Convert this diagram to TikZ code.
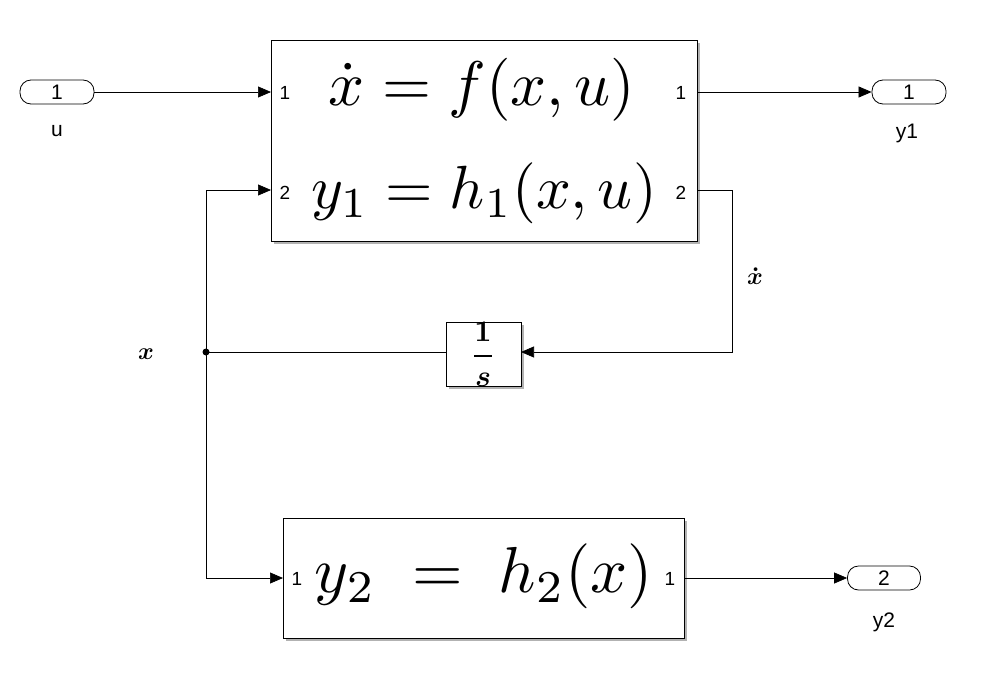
\documentclass[tikz,border=0pt]{standalone}
\usepackage{fontspec}
\setmainfont{Liberation Sans}
\usepackage{amsmath}
\usetikzlibrary{arrows.meta}
\begin{document}
\begin{tikzpicture}[x=1pt,y=-1pt,
  blk/.style={draw,line width=0.8pt,fill=white},
  pill/.style={draw,line width=0.8pt,rounded corners=11pt,minimum width=74pt,minimum height=24pt,inner sep=0pt,font=\fontsize{21}{23}\selectfont},
  wire/.style={line width=0.7pt,-{Triangle[length=13pt,width=11pt]}},
  plain/.style={line width=0.7pt},
  plab/.style={font=\fontsize{21}{23}\selectfont},
  port/.style={font=\fontsize{19}{21}\selectfont,inner sep=0pt},
  big/.style={inner sep=0pt}]
\useasboundingbox (0,0) rectangle (987,677);
\fill[gray!60] (274,43) rectangle (700,244);
\draw[blk] (271,40) rectangle (697,241);
\node[big] (eq1) at (482,90) {\scalebox{6.3}{$\dot{x} = f(x,u)$}};
\node[big] (eq2) at (484,193) {\scalebox{6.1}{$y_1 = h_1(x,u)$}};
\node[port] (p1) at (285,93) {1};
\node[port] (p2) at (285,193) {2};
\node[port] (o1) at (681,93) {1};
\node[port] (o2) at (681,193) {2};
\coordinate (b1in1) at (271,92);
\coordinate (b1in2) at (271,190);
\coordinate (b1out1) at (697,92);
\coordinate (b1out2) at (697,190);

\fill[gray!60] (449,325) rectangle (524,389);
\draw[blk] (446,322) rectangle (521,386);
\node (int) at (483,354) {\scalebox{3}{$\boldsymbol{\dfrac{1}{s}}$}};
\coordinate (intR) at (521,352);
\coordinate (intL) at (446,352);

\fill[gray!60] (286,521) rectangle (687,641);
\draw[blk] (283,518) rectangle (684,638);
\node[big] (eq3) at (484,576) {\scalebox{6.5}{$y_2 \;=\; h_2(x)$}};
\node[port] (q1) at (297,579) {1};
\node[port] (q2) at (670,579) {1};
\coordinate (b3in) at (283,578);
\coordinate (b3out) at (684,578);

\node[pill] (u) at (57,92) {1};
\node[plab] (ul) at (57,131) {u};
\node[pill] (y1) at (909,92) {1};
\node[plab] (y1l) at (907,133) {y1};
\node[pill,minimum width=73pt] (y2) at (884,578) {2};
\node[plab] (y2l) at (884,622) {y2};

\draw[wire] (u.east) -- (b1in1);
\draw[wire] (b1out1) -- (y1.west);
\draw[wire] (b1out2) -- (732,190) -- (732,352) -- (intR);
\coordinate (j) at (206,352);
\draw[plain] (intL) -- (j);
\fill (j) circle (3.5pt);
\draw[wire] (j) -- (206,190) -- (b1in2);
\draw[wire] (j) -- (206,578) -- (b3in);
\draw[wire] (b3out) -- (y2.west);
\node (xd) at (755,276) {\scalebox{2.4}{$\boldsymbol{\dot{x}}$}};
\node (xl) at (146,354) {\scalebox{2.4}{$\boldsymbol{x}$}};
\end{tikzpicture}
\end{document}
